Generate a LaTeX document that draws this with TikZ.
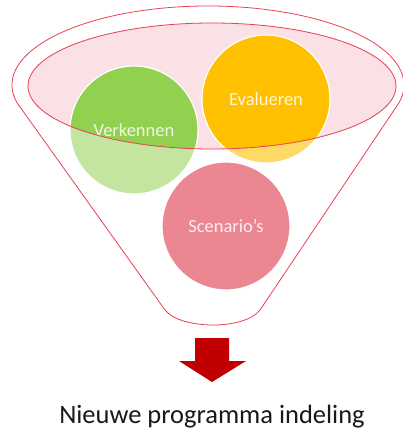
\documentclass[tikz,border=0pt]{standalone}
\usepackage{fontspec}
\setmainfont{Carlito}

\definecolor{funnelRed}{RGB}{232,64,84}
\definecolor{topPink}{RGB}{249,225,229}
\definecolor{verkGreen}{RGB}{146,208,80}
\definecolor{evalOrange}{RGB}{255,192,0}
\definecolor{scenPink}{RGB}{234,135,146}
\definecolor{arrowRed}{RGB}{192,0,0}

\begin{document}
\begin{tikzpicture}[x=1pt, y=1pt,
    funnel/.style={draw=funnelRed, line width=0.8pt},
    bubble/.style={circle, draw=white, line width=1.2pt, minimum size=128pt, inner sep=0pt,
        text=white, text opacity=0.85, font=\fontsize{18.5}{20}\selectfont}]
    \def \radius {64}
    \def \topRx {184}
    \def \topRy {63}
    % Canvas
    \useasboundingbox (0,0) rectangle (403,-430);
    % Centres
    \coordinate (topC) at (212,-86);
    \coordinate (verkC) at (134,-130);
    \coordinate (evalC) at (266,-99);
    \coordinate (scenC) at (226,-226);
    % Top of the funnel
    \fill[topPink] (topC) ellipse [x radius=\topRx, y radius=\topRy];
    % Circles, faded
    \fill[verkGreen!55!white] (verkC) circle (\radius);
    \fill[evalOrange!60!white] (evalC) circle (\radius);
    \fill[scenPink] (scenC) circle (\radius);
    % Circles, full colour inside the top
    \begin{scope}
        \clip (topC) ellipse [x radius=\topRx, y radius=\topRy];
        \fill[verkGreen] (verkC) circle (\radius);
        \fill[evalOrange] (evalC) circle (\radius);
    \end{scope}
    % Labels
    \node[bubble] (verk) at (verkC) {Verkennen};
    \node[bubble] (eval) at (evalC) {Evalueren};
    \node[bubble] (scen) at (scenC) {Scenario’s};
    % Funnel outline
    \draw[funnel] (topC) ellipse [x radius=\topRx, y radius=\topRy];
    \draw[funnel] (208,-85) ++(193:196 and 79) arc [start angle=193, end angle=-13, x radius=196, y radius=79]
        -- (260,-310) .. controls (245,-330) and (181,-330) .. (165,-310) -- cycle;
    % Block arrow
    \fill[arrowRed] (195,-338) -- (229,-338) -- (229,-361) -- (246,-361) -- (212,-382)
        -- (179,-361) -- (195,-361) -- cycle;
    % Caption
    \node[anchor=base, text=black!90, font=\fontsize{26.5}{30}\selectfont] (caption) at (212,-423) {Nieuwe programma indeling};
\end{tikzpicture}
\end{document}
